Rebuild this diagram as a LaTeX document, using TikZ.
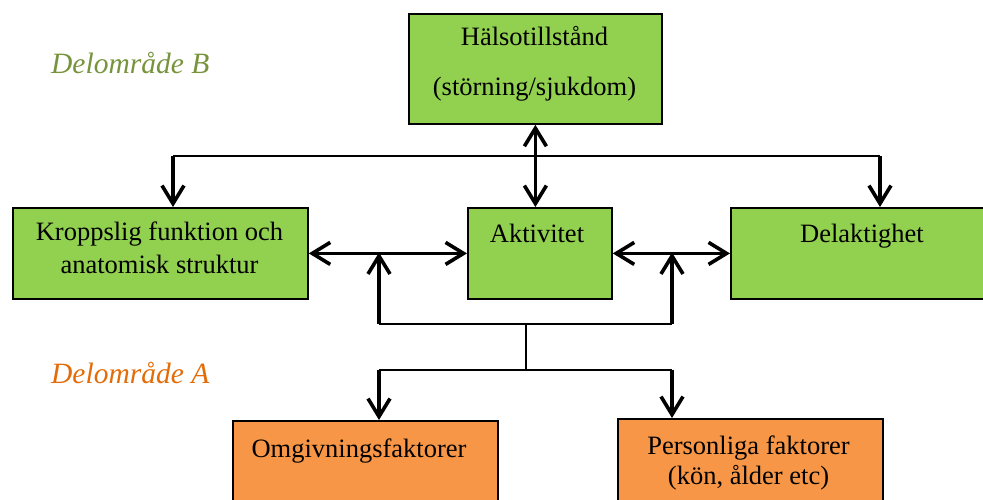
\documentclass[tikz,border=0pt]{standalone}
\usepackage{fontspec}
\setmainfont{Liberation Serif}
\usetikzlibrary{arrows.meta}
\definecolor{boxgreen}{HTML}{92D050}
\definecolor{boxorange}{HTML}{F79646}
\definecolor{labgreen}{HTML}{77933C}
\definecolor{laborange}{HTML}{E36C09}
\begin{document}
\begin{tikzpicture}[x=1pt,y=-1pt,
  box/.style={draw=black, line width=1.8pt, inner sep=0pt, anchor=north west},
  gbox/.style={box, fill=boxgreen},
  obox/.style={box, fill=boxorange},
  txt/.style={anchor=base, inner sep=0pt, font=\fontsize{26.5}{30}\selectfont},
  lab/.style={anchor=base west, inner sep=0pt, font=\fontsize{29.5}{32}\selectfont\itshape},
  conn/.style={line width=1.3pt},
  tip/.tip={Straight Barb[length=18pt,width=22pt]},
  arr/.style={line width=3.6pt, -tip},
  darr/.style={line width=3.6pt, tip-tip}]
\useasboundingbox (0,0) rectangle (983,499);
\clip (0,0) rectangle (983,499);
% boxes
\node[gbox, minimum width=253pt, minimum height=110pt] (hals) at (408,13) {};
\node[gbox, minimum width=295pt, minimum height=91pt] (kropp) at (12,207) {};
\node[gbox, minimum width=144pt, minimum height=91pt] (akt) at (467,207) {};
\node[gbox, minimum width=266pt, minimum height=91pt] (del) at (730,207) {};
\node[obox, minimum width=265pt, minimum height=100pt] (omg) at (232,420) {};
\node[obox, minimum width=265pt, minimum height=100pt] (pers) at (617,418) {};
% texts
\node[txt] (t1) at (534.5,45) {Hälsotillstånd};
\node[txt] (t2) at (534.5,95) {(störning/sjukdom)};
\node[txt] (t3) at (159.5,240) {Kroppslig funktion och};
\node[txt] (t4) at (159.5,273) {anatomisk struktur};
\node[txt] (t5) at (537,242) {Aktivitet};
\node[txt] (t6) at (862,242) {Delaktighet};
\node[txt] (t7) at (359,457) {Omgivningsfaktorer};
\node[txt] (t8) at (748.5,454) {Personliga faktorer};
\node[txt] (t9) at (748.5,484) {(kön, ålder etc)};
\node[lab, text=labgreen] (lb) at (51,73) {Delområde B};
\node[lab, text=laborange] (la) at (51,383) {Delområde A};
% coordinates
\coordinate (tL) at (173,156);
\coordinate (tR) at (880,156);
\coordinate (jL) at (379,252.5);
\coordinate (jR) at (672,252.5);
\coordinate (bL) at (379,324);
\coordinate (bR) at (672,324);
\coordinate (sT) at (526,324);
\coordinate (sB) at (526,370);
\coordinate (cL) at (379,370);
\coordinate (cR) at (672,370);
% connectors
\draw[darr] (hals.south) -- (hals.south |- akt.north);
\draw[conn] (tL) -- (tR);
\draw[arr] (tL) -- (tL |- kropp.north);
\draw[arr] (tR) -- (tR |- del.north);
\draw[darr] (kropp.east) -- (akt.west);
\draw[darr] (akt.east) -- (del.west);
\draw[conn] (bL) -- (bR);
\draw[arr] (bL) -- (jL);
\draw[arr] (bR) -- (jR);
\draw[conn] (sT) -- (sB);
\draw[conn] (cL) -- (cR);
\draw[arr] (cL) -- (cL |- omg.north);
\draw[arr] (cR) -- (cR |- pers.north);
\end{tikzpicture}
\end{document}
